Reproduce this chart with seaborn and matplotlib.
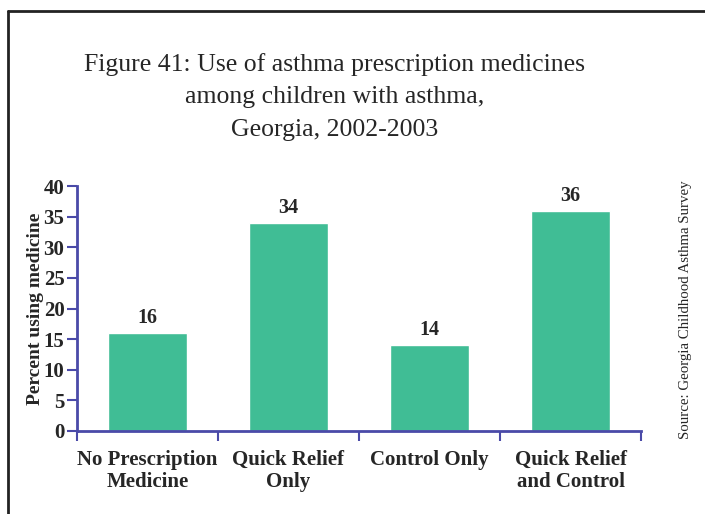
import matplotlib
matplotlib.use("Agg")
import matplotlib.pyplot as plt
import seaborn as sns
import pandas as pd
from matplotlib.lines import Line2D

categories = ["No Prescription\nMedicine", "Quick Relief\nOnly", "Control Only", "Quick Relief\nand Control"]
values = [16, 34, 14, 36]
yticks = [0, 5, 10, 15, 20, 25, 30, 35, 40]

sns.set_theme(style="white")
plt.rcParams['font.family'] = ['Liberation Serif', 'DejaVu Serif']

df = pd.DataFrame({"cat": categories, "val": values})

fig = plt.figure(figsize=(7.05, 5.14), dpi=100)
ax = fig.add_axes([77/705, 1-431/514, (641-77)/705, (431-186)/514])

bar_color = "#40BD95"
axis_color = "#4A4AA8"
sns.barplot(data=df, x="cat", y="val", color=bar_color, width=0.56, saturation=1, ax=ax)

ax.set_ylim(0, 40)
ax.set_xlim(-0.5, 3.5)
ax.set_yticks(yticks)
ax.set_yticklabels([str(t) for t in yticks], fontsize=15, fontweight="bold")
ax.set_xticks([-0.5, 0.5, 1.5, 2.5, 3.5])
ax.set_xticklabels([])
ax.tick_params(axis="x", which="major", direction="out", length=7, width=1.5, color=axis_color, bottom=True)
ax.tick_params(axis="y", direction="out", length=7, width=1.5, color=axis_color, left=True, pad=2)
for i, c in enumerate(categories):
    ax.text(i, -0.078, c, transform=ax.get_xaxis_transform(), ha="center", va="top",
            fontsize=15, fontweight="bold", linespacing=1.1)

for s in ["top", "right"]:
    ax.spines[s].set_visible(False)
for s in ["left", "bottom"]:
    ax.spines[s].set_color(axis_color)
    ax.spines[s].set_linewidth(2)

ax.set_xlabel("")
ax.set_ylabel("Percent using medicine", fontsize=14, fontweight="bold", labelpad=0)

for i, v in enumerate(values):
    ax.text(i, v + 0.8, str(v), ha="center", va="bottom", fontsize=14.5, fontweight="bold")

fig.text(335/705, 1-97/514, "Figure 41: Use of asthma prescription medicines\namong children with asthma,\nGeorgia, 2002-2003",
         ha="center", va="center", fontsize=18.5, linespacing=1.6)

fig.text(686/705, 1-310/514, "Source: Georgia Childhood Asthma Survey", rotation=90,
         ha="center", va="center", fontsize=10.75)

fig.add_artist(Line2D([8/705, 8/705], [0, 1-11/514], transform=fig.transFigure, color="#222222", lw=2))
fig.add_artist(Line2D([8/705, 1], [1-11/514, 1-11/514], transform=fig.transFigure, color="#222222", lw=2))

fig.savefig("out.png", dpi=100)
